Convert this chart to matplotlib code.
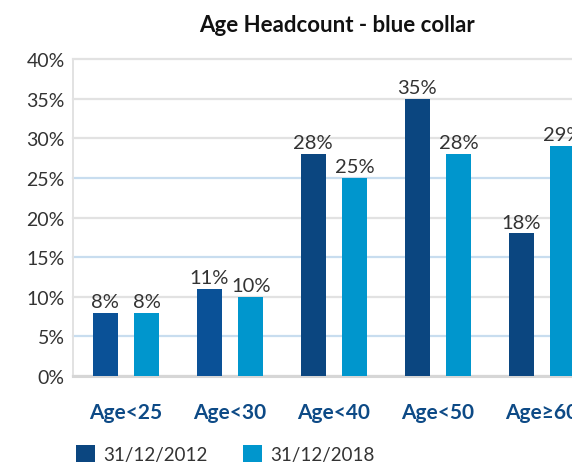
import matplotlib
matplotlib.use("Agg")
import matplotlib.pyplot as plt
from matplotlib.patches import Patch

plt.rcParams["font.family"] = ["Lato", "DejaVu Sans"]

# Data
categories = ["Age<25", "Age<30", "Age<40", "Age<50", "Age≥60"]
series_names = ["31/12/2012", "31/12/2018"]
values_2012 = [8, 11, 28, 35, 18]
values_2018 = [8, 10, 25, 28, 29]
y_ticks = [0, 5, 10, 15, 20, 25, 30, 35, 40]
title = "Age Headcount - blue collar"

# Styling
dark_blue = "#0b4680"
dark_blue_alt = "#0a5197"
light_blue = "#0096cd"
label_blue = "#0d4a86"
text_gray = "#333333"
grid_gray = "#e2e2e2"
grid_blue = "#c8ddef"

W, H = 572, 464
fig = plt.figure(figsize=(W / 100, H / 100), dpi=100)

# axes spans beyond the right edge of the canvas
left_px, bottom_px, top_px = 73, 377, 60
x_left, x_right = -0.51, 4.51
unit_px = 104
ax_w = (x_right - x_left) * unit_px
ax = fig.add_axes([left_px / W, (H - bottom_px) / H, ax_w / W, (bottom_px - top_px) / H])

x = list(range(len(categories)))
offset = 0.2
width = 0.24
colors_2012 = [dark_blue_alt, dark_blue_alt, dark_blue, dark_blue, dark_blue]
bars1 = ax.bar([i - offset for i in x], values_2012, width, color=colors_2012, zorder=3)
bars2 = ax.bar([i + offset for i in x], values_2018, width, color=light_blue, zorder=3)

for bars, vals in ((bars1, values_2012), (bars2, values_2018)):
    for b, v in zip(bars, vals):
        ax.annotate(f"{v}%", (b.get_x() + b.get_width() / 2, v),
                    xytext=(0, 2), textcoords="offset points",
                    ha="center", va="bottom", fontsize=14.5, color=text_gray,
                    annotation_clip=False)

ax.set_xlim(x_left, x_right)
ax.set_ylim(0, 40)
ax.set_yticks(y_ticks)
ax.set_yticklabels([f"{t}%" for t in y_ticks])
ax.set_xticks(x)
ax.set_xticklabels(categories)

ax.tick_params(axis="y", length=0, pad=6, labelsize=14, labelcolor=text_gray)
ax.tick_params(axis="x", length=0, pad=19, labelsize=15, labelcolor=label_blue)
for lbl in ax.get_xticklabels():
    lbl.set_fontweight("bold")

ax.yaxis.grid(True, linewidth=1.6, zorder=0)
ax.set_axisbelow(True)
for t, gl in zip(y_ticks, ax.get_ygridlines()):
    gl.set_color(grid_blue if t in (5, 15, 25) else grid_gray)
    gl.set_clip_on(False)

for side in ("top", "right"):
    ax.spines[side].set_visible(False)
ax.spines["left"].set_color(grid_gray)
ax.spines["left"].set_linewidth(1.4)
ax.spines["bottom"].set_color("#d6d6d6")
ax.spines["bottom"].set_linewidth(2.2)

fig.text(337 / W, 1 - 25 / H, title, ha="center", va="center",
         fontsize=16, fontweight="bold", color="#111111")

handles = [Patch(facecolor=dark_blue), Patch(facecolor=light_blue)]
fig.legend(handles, series_names, loc="lower left",
           bbox_to_anchor=(76 / W, 0.0), ncol=2, frameon=False,
           fontsize=13.5, handlelength=1.0, handleheight=1.0,
           handletextpad=0.45, columnspacing=1.9, borderpad=0.0,
           borderaxespad=0.0, labelcolor=text_gray)

fig.savefig("out.png", dpi=100)
